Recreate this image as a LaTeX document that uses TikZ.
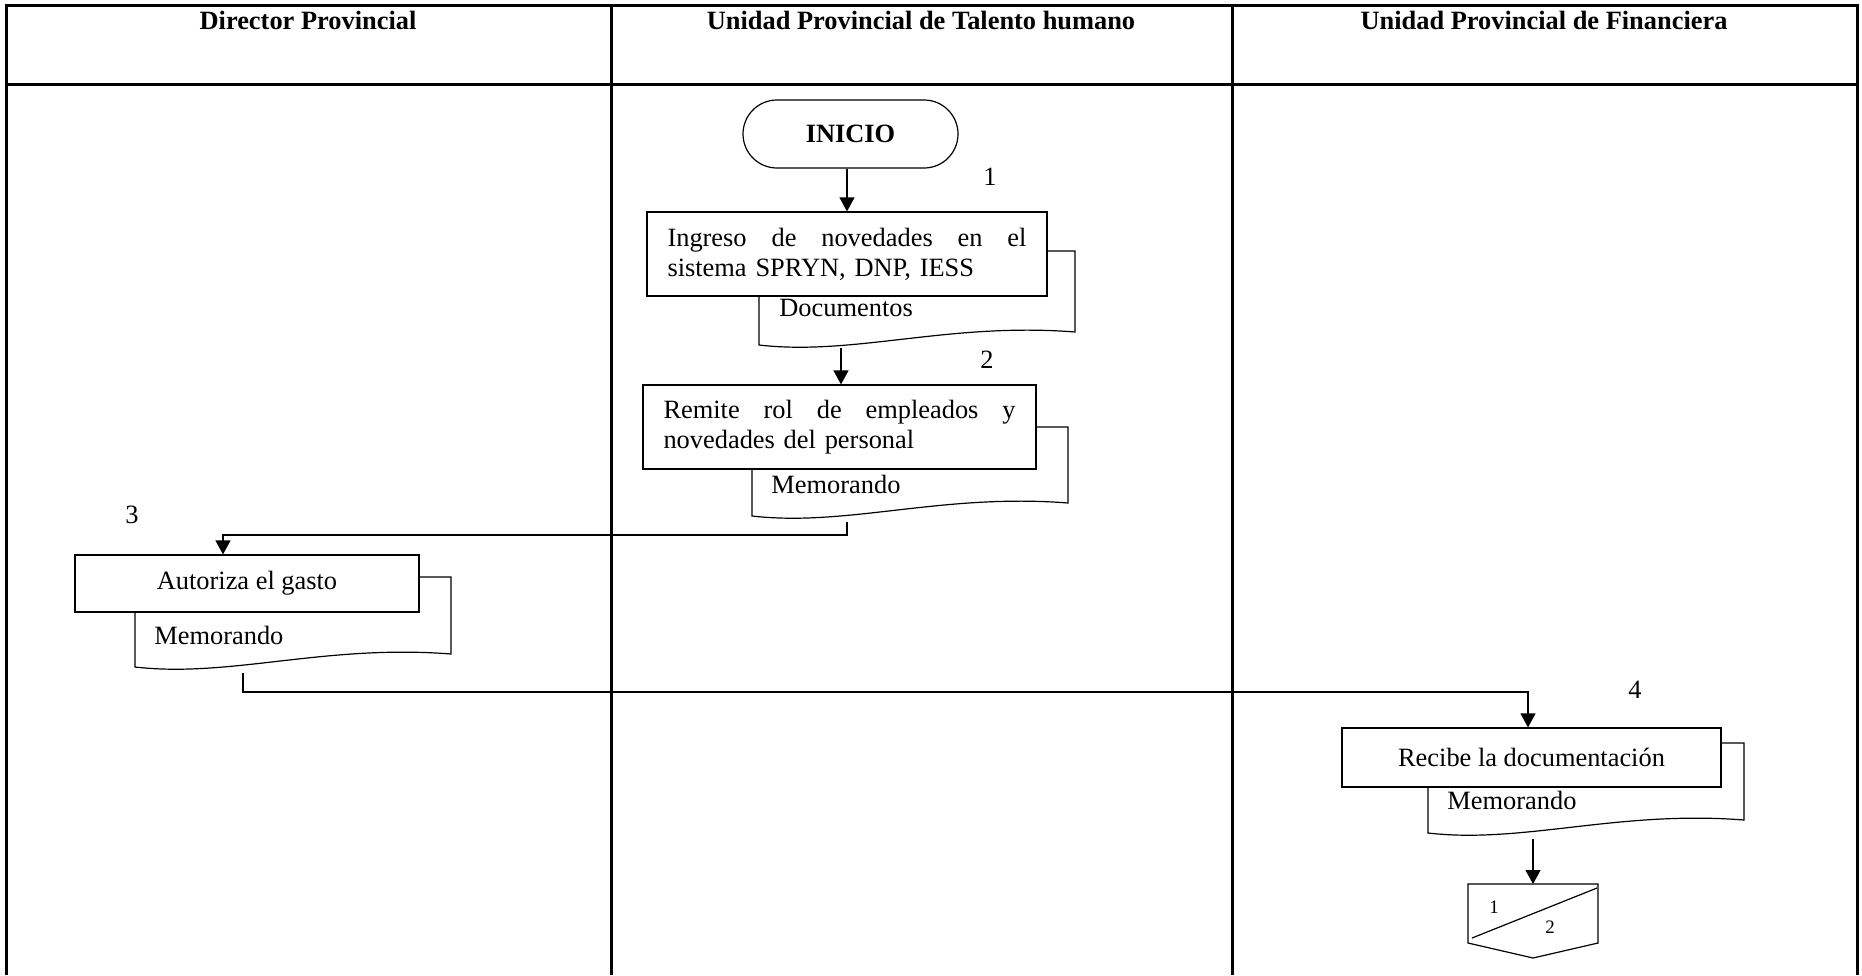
\documentclass[tikz,border=0pt]{standalone}
\usepackage{fontspec}
\setmainfont{Liberation Serif}
\usetikzlibrary{arrows.meta,calc}

\tikzset{
  lane/.style={line width=1.5pt},
  flowline/.style={line width=0.6pt},
  arr/.style={flowline,-{Triangle[width=7.5pt,length=7pt]}},
  procbox/.style={draw,line width=0.6pt,fill=white,rectangle,inner sep=0pt,align=left},
  doclabel/.style={anchor=west,inner sep=0pt},
  stepnum/.style={inner sep=0pt},
  head/.style={font=\fontsize{13.2}{15}\selectfont\bfseries,inner sep=0pt},
  terminal/.style={draw,line width=0.6pt,fill=white,rounded corners=17pt,inner sep=0pt,
    font=\fontsize{13.2}{15}\selectfont\bfseries},
}

% document symbol: left x, top y, lower-left y of the wavy edge
\newcommand{\docshape}[3]{%
  \filldraw[flowline,fill=white] (#1,#2) -- ({#1+316},#2) -- ({#1+316},{#3-13})
    .. controls ({#1+190},{#3-23}) and ({#1+95},{#3+11}) .. (#1,#3) -- cycle;}

\begin{document}
\begin{tikzpicture}[x=0.5pt,y=-0.5pt,font=\fontsize{13.2}{15}\selectfont]
\useasboundingbox (0,0) rectangle (1862,975);

% swimlane frame
\draw[lane] (6,975) -- (6,5) -- (1857,5) -- (1857,975);
\draw[lane] (6,84.5) -- (1857,84.5);
\draw[lane] (611,5) -- (611,975);
\draw[lane] (1232,5) -- (1232,975);

% lane headers
\node[head] (h1) at (308,20) {Director Provincial};
\node[head] (h2) at (921,20) {Unidad Provincial de Talento humano};
\node[head] (h3) at (1544,20) {Unidad Provincial de Financiera};

% start
\node[terminal,minimum width=107.5pt,minimum height=34pt] (start) at (850.5,134) {INICIO};

% step 1
\docshape{759}{251}{345}
\node[procbox,minimum width=200pt,minimum height=42pt,text width=179.5pt] (b1) at (847,254)
  {\hbox to 179.5pt{Ingreso\hfill de\hfill novedades\hfill en\hfill el}\\sistema SPRYN, DNP, IESS};
\node[doclabel] (m1) at (779,308) {Documentos};
\coordinate (d1out) at (841,348);

% step 2
\docshape{752}{427}{516}
\node[procbox,minimum width=196.5pt,minimum height=42pt,text width=176pt] (b2) at (839.5,427)
  {\hbox to 176pt{Remite\hfill rol\hfill de\hfill empleados\hfill y}\\novedades del personal};
\node[doclabel] (m2) at (771,484) {Memorando};
\coordinate (d2out) at (847,522);

% step 3
\docshape{135}{577}{667}
\node[procbox,minimum width=172pt,minimum height=28.5pt] (b3) at (247,583.5) {Autoriza el gasto};
\node[doclabel] (m3) at (154,635) {Memorando};
\coordinate (d3out) at (243,673);

% step 4
\docshape{1428}{743}{833}
\node[procbox,minimum width=189.5pt,minimum height=29.5pt] (b4) at (1531.5,757.5) {Recibe la documentaci\'on};
\node[doclabel] (m4) at (1447,800) {Memorando};
\coordinate (d4out) at (1533,839);

% off-page connector
\coordinate (offtop) at (1533,884);
\draw[flowline] (1468,884) -- (1598,884) -- (1598,943) -- (1533,958) -- (1468,943) -- cycle;
\draw[flowline] (1472,938) -- (1597,888);
\node[inner sep=0pt,font=\fontsize{9.5}{11}\selectfont] (p1) at (1494,907) {1};
\node[inner sep=0pt,font=\fontsize{9.5}{11}\selectfont] (p2) at (1550,927) {2};

% step numbers
\node[stepnum] (n1) at (990,177) {1};
\node[stepnum] (n2) at (987,360) {2};
\node[stepnum] (n3) at (132,515) {3};
\node[stepnum] (n4) at (1635,690) {4};

% connectors
\draw[arr] (start.south -| b1.north) -- (b1.north);
\draw[arr] (d1out) -- (d1out |- b2.north);
\draw[arr] (d2out) -- ++(0,13) -| ([xshift=-12pt]b3.north);
\draw[arr] (d3out) -- ++(0,19) -| ([xshift=-1.75pt]b4.north);
\draw[arr] (d4out) -- (offtop);
\end{tikzpicture}
\end{document}
